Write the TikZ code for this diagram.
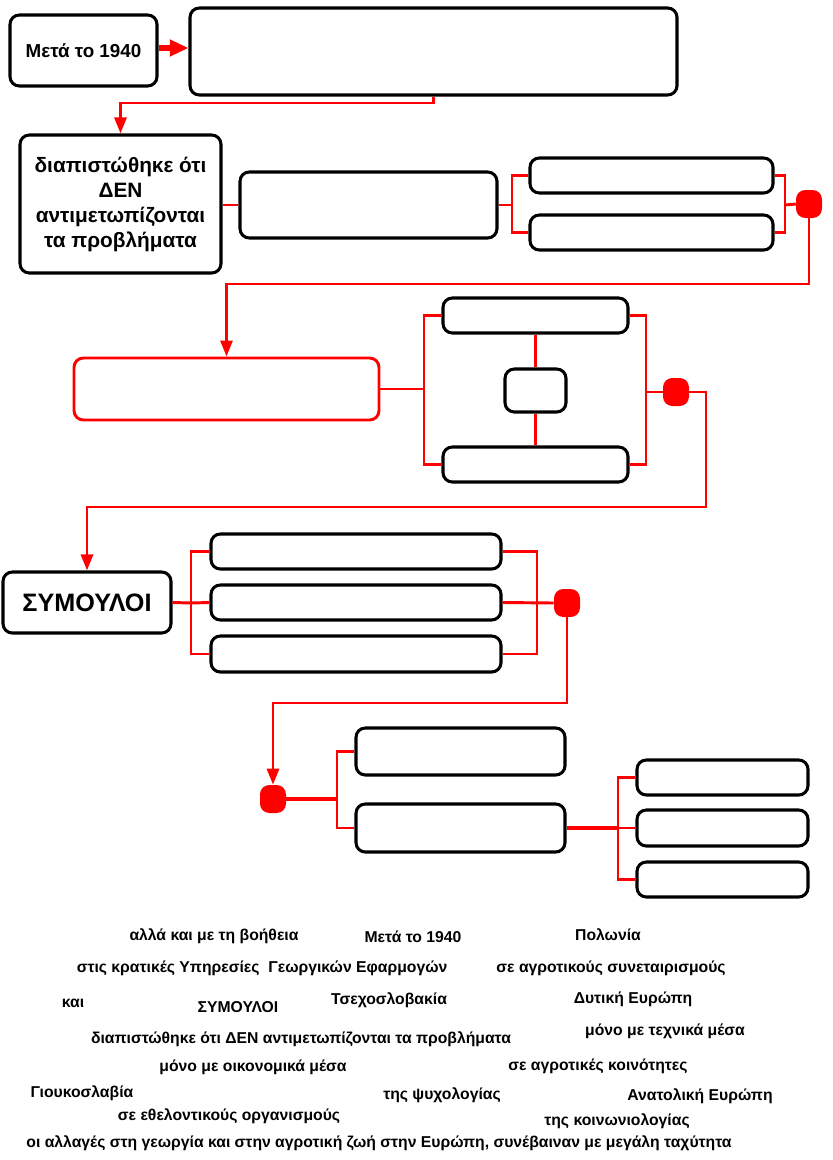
\documentclass[tikz,border=0pt]{standalone}
\usepackage{fontspec}
\setmainfont{Liberation Sans}
\usetikzlibrary{arrows.meta,fit}
\begin{document}
\begin{tikzpicture}[x=0.75pt,y=-0.75pt,
  box/.style={draw=black, line width=2.3pt, rounded corners=7pt, inner sep=0pt, fill=white},
  boxtext/.style={inner sep=0pt, align=center, font=\bfseries\fontsize{14.1}{18.75}\selectfont},
  rbox/.style={box, draw=red, line width=2.2pt},
  rline/.style={draw=red, line width=2.2pt},
  rarrow/.style={rline, -{Triangle[length=12pt,width=9pt]}},
  bigarrow/.style={draw=red, line width=3.8pt, -{Triangle[length=14pt,width=12pt]}},
  reddot/.style={fill=red, draw=none, minimum width=19.5pt, minimum height=21pt, rounded corners=7pt, inner sep=0pt},
  bank/.style={font=\bfseries\fontsize{11.8}{13}\selectfont, inner sep=0pt}
]
\useasboundingbox (0,0) rectangle (832,1160);
\fill[white] (0,0) rectangle (832,1160);

% boxes
\node[box, fit={(10,15) (157,86)}] (b1) {};
\node[boxtext] (t1) at (b1.center) {Μετά το 1940};
\node[box, fit={(190,8) (677,95)}] (b2) {};
\node[box, fit={(20,135) (221,273)}] (b3) {};
\node[boxtext, font=\bfseries\fontsize{15.6}{18.75}\selectfont] (t3) at (b3.center) {διαπιστώθηκε ότι\\ΔΕΝ\\αντιμετωπίζονται\\τα προβλήματα};
\node[box, fit={(240,172) (497,238)}] (b4) {};
\node[box, fit={(530,158) (773,193)}] (b5) {};
\node[box, fit={(530,215) (773,250)}] (b6) {};
\node[reddot] (d1) at (809,204) {};

\node[rbox, fit={(74,358) (379,420)}] (b7) {};
\node[box, fit={(443,298) (628,333)}] (b8) {};
\node[box, fit={(443,447) (628,482)}] (b9) {};
\node[box, fit={(505,369) (566,412)}] (b10) {};
\node[reddot] (d2) at (676,392) {};

\node[box, fit={(3,572) (171,633)}] (b11) {};
\node[boxtext, font=\bfseries\fontsize{18.9}{22}\selectfont] (t11) at (b11.center) {ΣΥΜΟΥΛΟΙ};
\node[box, fit={(211,534) (501,569)}] (b12) {};
\node[box, fit={(211,585) (501,620)}] (b13) {};
\node[box, fit={(211,636) (501,672)}] (b14) {};
\node[reddot] (d3) at (567,603) {};

\node[reddot] (d4) at (273,799) {};
\node[box, fit={(356,728) (565,775)}] (b15) {};
\node[box, fit={(356,804) (565,852)}] (b16) {};
\node[box, fit={(637,760) (808,795)}] (b17) {};
\node[box, fit={(637,810) (808,846)}] (b18) {};
\node[box, fit={(637,862) (808,897)}] (b19) {};

% junction coordinates
\coordinate (k0) at (433.5,103);
\coordinate (j1) at (512,205);
\coordinate (j2) at (785,205);
\coordinate (k1) at (809,284);
\coordinate (j3) at (424,389);
\coordinate (j4) at (646,392);
\coordinate (k2) at (706,507);
\coordinate (j5) at (191,603);
\coordinate (j6) at (537,603);
\coordinate (k3) at (567,703);
\coordinate (j7) at (337,799);
\coordinate (j8) at (618,828);

% connectors
\draw[bigarrow] (b1.east |- 0,48) -- (b2.west |- 0,48);
\draw[rarrow] (b2.south) -- (b2.south |- k0) -| (b3.north);
\draw[rline] (b3.east |- b4.west) -- (b4.west);
\draw[rline] (b4.east) -- (j1);
\draw[rline] (b5.west) -| (j1) |- (b6.west);
\draw[rline] (b5.east) -| (j2) |- (b6.east);
\draw[rline] (j2) -- (d1.west);
\draw[rarrow] (d1.south) -- (k1) -| (b7.north);

\draw[rline] (b7.east) -- (j3);
\draw[rline] (b8.west) -| (j3) |- (b9.west);
\draw[rline] (b8.south) -- (b10.north);
\draw[rline] (b10.south) -- (b9.north);
\draw[rline] (b8.east) -| (j4) |- (b9.east);
\draw[rline] (j4) -- (d2.west);
\draw[rarrow] (d2.east) -| (k2) -| (b11.north);

\draw[rline] (b11.east) -- (j5);
\draw[rline] (b12.west) -| (j5) |- (b14.west);
\draw[rline] (j5) -- (b13.west);
\draw[rline] (b12.east) -| (j6) |- (b14.east);
\draw[rline] (b13.east) -- (d3.west);
\draw[rarrow] (d3.south) -- (k3) -| (d4.north);

\draw[rline, line width=3pt] (d4.east) -- (j7);
\draw[rline] (b15.west) -| (j7) |- (b16.west);
\draw[rline, line width=3pt] (b16.east) -- (j8);
\draw[rline] (b17.west) -| (j8) |- (b19.west);
\draw[rline] (j8) -- (b18.west);

% word bank
\node[bank] (w1) at (214,936) {αλλά και με τη βοήθεια};
\node[bank] (w2) at (413,937) {Μετά το 1940};
\node[bank] (w3) at (608,935) {Πολωνία};
\node[bank] (w4) at (262,968) {στις κρατικές Υπηρεσίες\ \ Γεωργικών Εφαρμογών};
\node[bank] (w5) at (611,968) {σε αγροτικούς συνεταιρισμούς};
\node[bank] (w6) at (73,1003) {και};
\node[bank] (w7) at (238,1007) {ΣΥΜΟΥΛΟΙ};
\node[bank] (w8) at (389,1000) {Τσεχοσλοβακία};
\node[bank] (w9) at (633,999) {Δυτική Ευρώπη};
\node[bank] (w10) at (301,1039) {διαπιστώθηκε ότι ΔΕΝ αντιμετωπίζονται τα προβλήματα};
\node[bank] (w11) at (665,1031) {μόνο με τεχνικά μέσα};
\node[bank] (w12) at (253,1067) {μόνο με οικονομικά μέσα};
\node[bank] (w13) at (598,1066) {σε αγροτικές κοινότητες};
\node[bank] (w14) at (82,1093) {Γιουκοσλαβία};
\node[bank] (w15) at (442,1095) {της ψυχολογίας};
\node[bank] (w16) at (700,1096) {Ανατολική Ευρώπη};
\node[bank] (w17) at (229,1116) {σε εθελοντικούς οργανισμούς};
\node[bank] (w18) at (617,1121) {της κοινωνιολογίας};
\node[bank] (w19) at (379,1143) {οι αλλαγές στη γεωργία και στην αγροτική ζωή στην Ευρώπη, συνέβαιναν με μεγάλη ταχύτητα};
\end{tikzpicture}
\end{document}
